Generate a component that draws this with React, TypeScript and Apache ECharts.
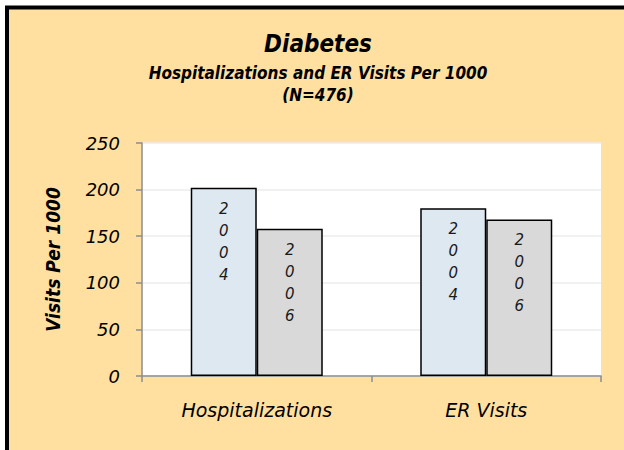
import React, { useEffect, useRef } from "react";
import * as echarts from "echarts";

const categories = ["Hospitalizations", "ER Visits"];
const seriesNames = ["2004", "2006"];
const values2004 = [202, 180];
const values2006 = [158, 168];
const yTicks = { min: 0, max: 250, interval: 50 };
const titleText = "Diabetes";
const subtitleText = "Hospitalizations and ER Visits Per 1000\n(N=476)";
const yAxisName = "Visits Per 1000";

const FONT = "'DejaVu Sans', sans-serif";
const FONT_C = "'DejaVu Sans Condensed', 'DejaVu Sans', sans-serif";

export default function App() {
  const ref = useRef<HTMLDivElement>(null);
  useEffect(() => {
    if (!ref.current) return;
    const chart = echarts.init(ref.current, null, { renderer: "svg" });
    const labelCfg = {
      show: true,
      position: "insideTop" as const,
      distance: 10,
      formatter: (p: any) => String(p.seriesName).split("").join("\n"),
      fontFamily: FONT,
      fontStyle: "italic" as const,
      fontSize: 15,
      lineHeight: 22,
      color: "#1a1a1a",
    };
    chart.setOption({
      animation: false,
      backgroundColor: "#ffffff",
      graphic: [
        {
          type: "rect",
          z: -10,
          silent: true,
          shape: { x: 7, y: 7.5, width: 700, height: 520 },
          style: { fill: "#FFE0A0", stroke: "#000000", lineWidth: 4 },
        },
      ],
      title: [
        {
          text: titleText,
          left: 318,
          textAlign: "center",
          top: 32,
          padding: 0,
          textStyle: {
            fontFamily: FONT_C,
            fontStyle: "italic",
            fontWeight: "bold",
            fontSize: 24,
            lineHeight: 24,
            color: "#000",
          },
        },
        {
          text: subtitleText,
          left: 318,
          textAlign: "center",
          top: 62,
          padding: 0,
          textStyle: {
            fontFamily: FONT_C,
            fontStyle: "italic",
            fontWeight: "bold",
            fontSize: 17,
            lineHeight: 22,
            color: "#000",
          },
        },
      ],
      grid: {
        left: 142,
        right: 23,
        top: 143,
        bottom: 74,
        show: true,
        backgroundColor: "#ffffff",
        borderWidth: 0,
        containLabel: false,
      },
      xAxis: {
        type: "category",
        data: categories,
        axisLine: { show: true, lineStyle: { color: "#8c8c8c", width: 1.5 } },
        axisTick: { show: true, length: 6, lineStyle: { color: "#8c8c8c", width: 1.5 } },
        axisLabel: {
          margin: 24,
          fontFamily: FONT,
          fontStyle: "italic",
          fontSize: 19,
          color: "#000",
        },
      },
      yAxis: {
        type: "value",
        min: yTicks.min,
        max: yTicks.max,
        interval: yTicks.interval,
        name: yAxisName,
        nameLocation: "middle",
        nameGap: 80,
        nameRotate: 90,
        nameTextStyle: {
          fontFamily: FONT_C,
          fontStyle: "italic",
          fontWeight: "bold",
          fontSize: 19,
          color: "#000",
        },
        axisLine: { show: true, lineStyle: { color: "#8c8c8c", width: 1.5 } },
        axisTick: { show: true, length: 6, lineStyle: { color: "#8c8c8c", width: 1.5 } },
        axisLabel: {
          margin: 22,
          fontFamily: FONT,
          fontStyle: "italic",
          fontSize: 18,
          color: "#000",
        },
        splitLine: { show: true, lineStyle: { color: "#ececec", width: 1.5 } },
      },
      series: [
        {
          name: seriesNames[0],
          type: "bar",
          data: values2004,
          barWidth: 66,
          barGap: "0%",
          itemStyle: { color: "#DDE8F0", borderColor: "#000", borderWidth: 1.5 },
          label: labelCfg,
        },
        {
          name: seriesNames[1],
          type: "bar",
          data: values2006,
          barWidth: 66,
          barGap: "0%",
          itemStyle: { color: "#D9D9D9", borderColor: "#000", borderWidth: 1.5 },
          label: labelCfg,
        },
      ],
    });
    return () => chart.dispose();
  }, []);
  return (
    <div
      ref={ref}
      style={{ position: "fixed", left: 0, top: 0, width: 624, height: 450 }}
    />
  );
}
